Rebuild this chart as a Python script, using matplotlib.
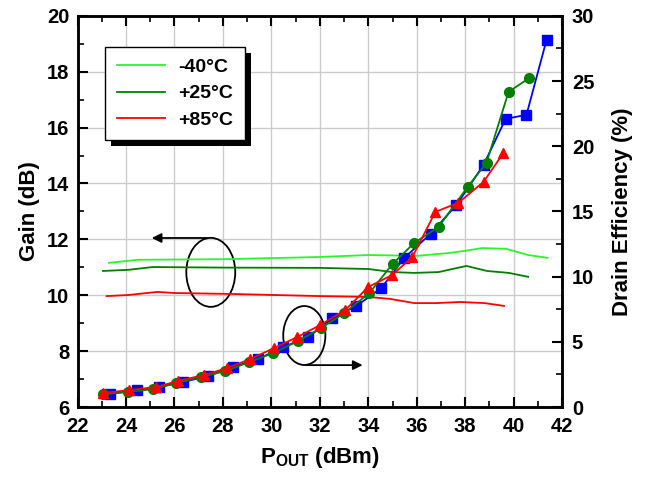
import numpy as np
import matplotlib
matplotlib.use('Agg')
import matplotlib.pyplot as plt
from matplotlib.patches import Ellipse, Rectangle
from matplotlib.ticker import MultipleLocator

# ---------- Data ------------------------------------------------------------------------------------------------------

# Gain vs Pout (left axis)
gain_m40_x = [23.3, 24.5, 28.0, 32.0, 34.0, 36.0, 37.3, 38.0, 38.7, 39.7, 40.6, 41.4]
gain_m40_y = [11.16, 11.27, 11.29, 11.37, 11.44, 11.41, 11.51, 11.59, 11.69, 11.66, 11.44, 11.34]

gain_25_x = [23.05, 24.1, 25.1, 28.0, 32.0, 34.0, 35.0, 35.9, 36.9, 38.05, 38.9, 39.8, 40.6]
gain_25_y = [10.87, 10.91, 11.01, 10.99, 10.98, 10.94, 10.83, 10.80, 10.83, 11.05, 10.87, 10.80, 10.66]

gain_85_x = [23.2, 24.1, 25.3, 26.0, 28.2, 30.1, 32.0, 34.0, 34.9, 35.9, 36.8, 37.8, 38.8, 39.6]
gain_85_y = [9.97, 10.01, 10.12, 10.08, 10.05, 10.01, 9.97, 9.94, 9.87, 9.72, 9.72, 9.76, 9.72, 9.62]

# Drain efficiency vs Pout (right axis)
eff_green_x = [23.05, 24.09, 25.12, 26.07, 27.10, 28.09, 29.09, 30.08, 31.11, 32.06, 33.01, 34.05, 35.0, 35.9,
               36.9, 38.1, 38.88, 39.79, 40.62]
eff_green_y = [1.0, 1.15, 1.38, 1.84, 2.30, 2.76, 3.45, 4.14, 5.07, 6.06, 7.21, 8.75, 10.97, 12.59,
               13.81, 16.88, 18.73, 24.17, 25.2]

eff_blue_x = [23.34, 24.46, 25.37, 26.36, 27.39, 28.43, 29.46, 30.49, 31.53, 32.52, 33.51, 34.54, 35.49, 36.57,
              37.64, 38.76, 39.67, 40.53, 41.36]
eff_blue_y = [1.0, 1.30, 1.53, 1.92, 2.38, 3.07, 3.68, 4.60, 5.37, 6.83, 7.75, 9.13, 11.44, 13.28,
              15.50, 18.57, 22.10, 22.41, 28.17]

eff_red_x = [23.05, 24.13, 25.24, 26.15, 27.23, 28.18, 29.13, 30.12, 31.07, 32.02, 33.05, 34.0, 34.99, 35.82,
             36.77, 37.72, 38.76, 39.58]
eff_red_y = [1.07, 1.30, 1.53, 2.0, 2.46, 2.99, 3.68, 4.53, 5.37, 6.29, 7.44, 9.21, 10.13, 11.51,
             14.97, 15.66, 17.27, 19.49]

legend_labels = ['-40°C', '+25°C', '+85°C']

# ---------- Style ------------------------------------------------------------------------------------------------------

plt.rcParams['font.family'] = ['Liberation Sans', 'DejaVu Sans']
plt.rcParams['font.weight'] = 'bold'
plt.rcParams['mathtext.fontset'] = 'custom'
plt.rcParams['mathtext.rm'] = 'Liberation Sans:bold'
plt.rcParams['mathtext.bf'] = 'Liberation Sans:bold'

c_light = '#2af52a'
c_dark = '#007f00'
c_red = '#ff0000'
c_blue = '#0000ff'

fig = plt.figure(figsize=(6.47, 4.8), dpi=100)
ax1 = fig.add_axes([0.1198, 0.152, 0.749, 0.815])
ax2 = ax1.twinx()

# gain lines
ax1.plot(gain_m40_x, gain_m40_y, color=c_light, lw=1.3, label=legend_labels[0])
ax1.plot(gain_25_x, gain_25_y, color=c_dark, lw=1.3, label=legend_labels[1])
ax1.plot(gain_85_x, gain_85_y, color=c_red, lw=1.3, label=legend_labels[2])

# efficiency curves
ax2.plot(eff_blue_x, eff_blue_y, color=c_blue, lw=1.3, marker='s', ms=6.5, mec=c_blue)
ax2.plot(eff_green_x, eff_green_y, color=c_dark, lw=1.3, marker='o', ms=7, mec=c_dark)
ax2.plot(eff_red_x, eff_red_y, color=c_red, lw=1.3, marker='^', ms=7.5, mec=c_red)

# axes ranges and ticks
ax1.set_xlim(22, 42)
ax1.set_ylim(6, 20)
ax2.set_ylim(0, 30)
ax1.xaxis.set_major_locator(MultipleLocator(2))
ax1.xaxis.set_minor_locator(MultipleLocator(1))
ax1.yaxis.set_major_locator(MultipleLocator(2))
ax1.yaxis.set_minor_locator(MultipleLocator(1))
ax2.yaxis.set_major_locator(MultipleLocator(5))
ax2.yaxis.set_minor_locator(MultipleLocator(2.5))

ax1.grid(True, which='major', color='#cccccc', lw=1.0)
ax1.set_axisbelow(True)

for ax in (ax1, ax2):
    ax.tick_params(which='major', direction='in', length=7, width=1.5, labelsize=14.5)
    ax.tick_params(which='minor', direction='in', length=4, width=1.2)
    for s in ax.spines.values():
        s.set_linewidth(1.8)
ax1.tick_params(which='both', top=True, right=False)
ax1.tick_params(axis='x', which='major', pad=7)
ax1.tick_params(axis='y', which='major', pad=6)
ax2.tick_params(which='both', right=True)
ax2.tick_params(axis='y', which='major', pad=7)

ax1.set_xlabel(r'P$_{\rm OUT}$ (dBm)', fontsize=16, fontweight='bold', labelpad=7)
ax1.set_ylabel('Gain (dB)', fontsize=16, fontweight='bold', labelpad=5)
ax2.set_ylabel('Drain Efficiency (%)', fontsize=16, fontweight='bold', labelpad=13)

# ellipses and arrows
ax1.add_patch(Ellipse((27.5, 10.82), 2.02, 2.47, fill=False, ec='black', lw=1.3))
ax1.annotate('', xy=(24.95, 12.05), xytext=(27.46, 12.05),
             arrowprops=dict(arrowstyle='-|>', color='black', lw=1.3, mutation_scale=14))
ax1.add_patch(Ellipse((31.36, 8.56), 1.74, 2.11, fill=False, ec='black', lw=1.3))
ax1.annotate('', xy=(33.88, 7.50), xytext=(31.32, 7.50),
             arrowprops=dict(arrowstyle='-|>', color='black', lw=1.3, mutation_scale=14))

# legend with a hard black shadow
leg = ax2.legend(*ax1.get_legend_handles_labels(), loc='upper left', bbox_to_anchor=(0.057, 0.921),
                 borderaxespad=0, frameon=True, fancybox=False, fontsize=14, handlelength=2.5,
                 labelspacing=0.45, borderpad=0.6, handletextpad=0.65)
leg.get_frame().set_edgecolor('black')
leg.get_frame().set_linewidth(1.0)
leg.get_frame().set_alpha(1)
fig.canvas.draw()
bb = leg.get_window_extent().transformed(fig.transFigure.inverted())
shadow = Rectangle((bb.x0 + 6 / 647, bb.y0 - 6 / 480), bb.width, bb.height, transform=fig.transFigure,
                   facecolor='black', edgecolor='none', zorder=4)
ax2.add_artist(shadow)
shadow.set_clip_on(False)
leg.set_zorder(5)

fig.savefig('out.png', dpi=100)
